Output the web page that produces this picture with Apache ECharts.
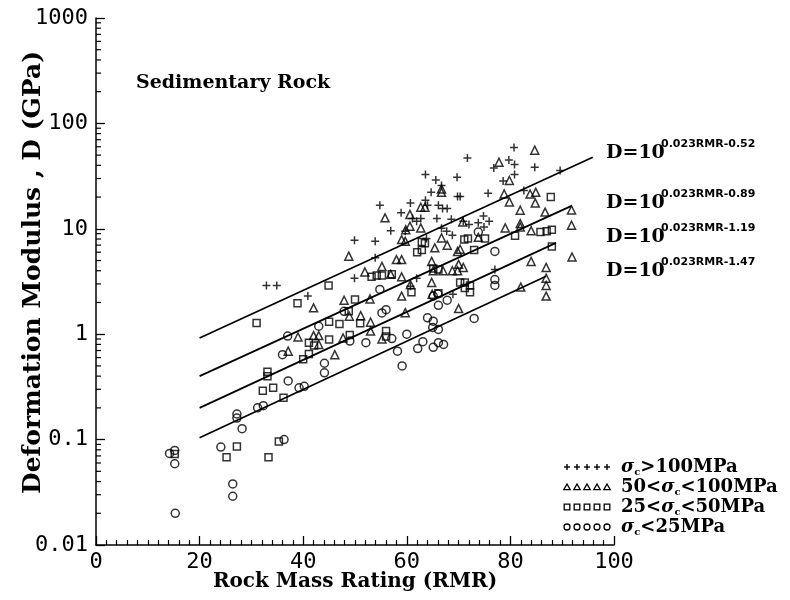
<!DOCTYPE html>
<html><head><meta charset="utf-8">
<script src="https://cdn.jsdelivr.net/npm/echarts@6/dist/echarts.min.js"></script>
<style>html,body{margin:0;padding:0;background:#fff}#c{width:790px;height:600px}</style>
</head><body><div id="c"></div>
<script>
// ---- data (RMR, D in GPa) ----
const strongRock = [ // sigma_c > 100 MPa
 [32.9,2.9],[34.9,2.9],[40.9,2.3],[49.9,7.8],[49.9,3.4],
 [80.7,59],[71.7,47],[79.7,45],[80.8,40.7],[76.8,37.8],[84.7,38.4],[80.8,32.7],[78.6,28.4],
 [63.6,32.7],[65.6,29.1],[69.7,30.9],[64.7,22.2],[69.8,20.2],[70.3,20.2],[75.7,21.8],[82.6,23.1],[89.6,35.7],
 [54.8,16.7],[60.7,17.6],[58.9,14.2],[63.6,18.7],[64,16.7],[66.1,16.7],[66.9,15.6],[67.8,15.6],
 [65.8,12.5],[62.7,12.5],[61.9,11.8],[61.1,12.5],[68.6,12.3],[70.9,11.8],[72,11],
 [73.8,11.4],[74.8,13.2],[75.9,11.8],[74.9,10.4],[56.9,9.6],[59.7,9.5],[53.9,7.6],[66.7,10.1],[67.7,9.5],[68.8,8.7],[63.8,8.1],
 [53.9,5.3],[61.9,3.4],[60.7,2.85],[68.9,2.4],[77,4.1],[66.7,25.8]
];
const mediumRock = [ // 50 < sigma_c < 100 MPa
 [84.7,55.7],[77.8,42.8],[79.8,28.7],[66.7,23.9],[66.7,22.2],[78.8,21.4],[83.8,21.4],[84.9,22.2],[79.8,18],[84.8,17.6],
 [55.8,12.7],[62.7,16],[63.5,16],[60.6,13.7],[59.8,9.8],[62.7,10.2],[70.8,11.6],
 [81.9,15],[81.9,11.2],[81.9,10.4],[86.7,14.4],[91.8,15.1],[91.8,10.8],[91.9,5.4],
 [79,10.2],[84,9.6],[84,4.9],[86.9,4.3],[86.9,3.4],[86.9,2.9],[86.9,2.3],[82,2.8],
 [58,5.1],[59,5.1],[55.2,4.4],[64.8,4.9],[64.8,3.1],[59,3.5],[59,2.3],
 [66.7,8.2],[67.8,7],[69.8,6.1],[70.3,6.4],[67,4.0],[68.8,4.0],[69.8,4.0],[70.9,4.3],[70,4.6],[65.1,4.0],[70,1.75],[59.7,1.6],
 [73.8,8.3],[65.4,6.6],[60.6,10.6],[59.7,7.6],
 [48.8,5.5],[51.9,3.9],[47.9,2.1],[52.9,2.16],[51.1,1.5],[53,1.3],[53,1.07],[46.1,0.64],[55.2,0.9],[64.9,2.4],
 [42,1.78],[39,0.94],[42,0.97],[43,0.97],[37.1,0.69],[43,0.8],[48.9,1.48],[47.7,0.92],[59,7.9],[56.9,3.7],[60.7,2.96]
];
const weakRock = [ // 25 < sigma_c < 50 MPa
 [44.9,2.9],[38.9,1.97],[50,2.13],[48.8,1.65],[31,1.28],
 [45,1.31],[47,1.25],[51,1.27],[45,0.89],[41.1,0.83],[42.1,0.78],[41.1,0.65],[40,0.58],[49,0.98],
 [33.1,0.44],[33.1,0.40],[32.2,0.29],[34.2,0.31],[36.2,0.25],[27.2,0.086],[25.2,0.068],[33.3,0.068],[35.3,0.096],[15.2,0.073],
 [87.8,20],[88,9.8],[85.8,9.3],[87,9.5],[80.9,8.6],[88,6.8],
 [71.8,8.1],[71.1,7.9],[75.1,8.1],[73,6.3],[62.9,7.5],[63.5,7.3],[62.9,6.3],[62,6],
 [65.1,4.2],[66.1,4.1],[70.3,3.1],[71.2,3.1],[72.2,2.9],[71.2,2.75],[72.2,2.5],[66.1,2.45],[60.9,2.5],
 [54.2,3.6],[55.2,3.6],[57.1,3.7],[53.2,3.5],[56,1.07],[56,0.95]
];
const veryWeakRock = [ // sigma_c < 25 MPa
 [43,1.19],[37,0.96],[36,0.64],[44.1,0.53],[44.1,0.43],[49,0.86],[52.1,0.83],[37.1,0.36],[39.2,0.31],[40.2,0.32],
 [32.3,0.21],[31.2,0.20],[27.2,0.175],[27.2,0.16],[28.2,0.127],[24.1,0.085],[36.3,0.1],[26.4,0.038],[26.4,0.029],
 [14.2,0.074],[15.2,0.079],[15.2,0.059],[15.3,0.020],
 [54.8,2.66],[56,1.71],[55.2,1.59],[66.1,1.88],[66,2.41],[67.8,2.1],[65.1,2.3],[64,1.43],[65.1,1.33],[65,1.16],[66.1,1.11],
 [73,1.41],[60,1.0],[57.1,0.91],[63.1,0.85],[66.1,0.83],[67.1,0.80],[65.1,0.75],[62.1,0.73],[58.2,0.69],[59.1,0.50],
 [77,3.3],[77,2.9],[77,6.1],[73.8,9.3],[47.9,1.65]
];
// fitted lines, endpoints
const fitA = [[20,0.92],[95.9,47.8]];   // D=10^(0.023RMR-0.52)
const fitB = [[20,0.40],[91.8,16.5]];   // D=10^(0.023RMR-0.89)
const fitC = [[20,0.20],[88.8,7.35]];   // D=10^(0.023RMR-1.19)
const fitD = [[20,0.104],[86.9,3.55]];  // D=10^(0.023RMR-1.47)
const equations = ['0.023RMR-0.52','0.023RMR-0.89','0.023RMR-1.19','0.023RMR-1.47'];
const legendLabels = [
  ['', '>100MPa'], ['50<', '<100MPa'], ['25<', '<50MPa'], ['', '<25MPa']
];
const xTicks = [0,20,40,60,80,100];
const yTicks = [0.01,0.1,1,10,100,1000];

// ---- minor tick positions for the log axis (decoration) ----
const yMinor = [];
for (let k = -2; k <= 2; k++) for (let m = 2; m <= 9; m++) yMinor.push(+(m * Math.pow(10, k)).toPrecision(3));

const chart = echarts.init(document.getElementById('c'), null, {renderer: 'canvas'});
const serif = 'DejaVu Serif';
const mono = 'DejaVu Sans Mono';
const plusPath = 'path://M5,0L5,10M0,5L10,5';

function scatter(name, data, symbol, size) {
  return {
    name, type: 'scatter', data, symbol, symbolSize: size, silent: true,
    itemStyle: {color: 'rgba(0,0,0,0)', borderColor: '#000', borderWidth: 1.5},
    emphasis: {disabled: true}, z: 3
  };
}
function fitLine(data) {
  return {type: 'line', data, symbol: 'none', silent: true,
    lineStyle: {color: '#000', width: 1.7}, z: 4};
}

// legend graphics
const legendG = [];
const rowsY = [467, 487, 507, 527];
rowsY.forEach((y, r) => {
  for (let i = 0; i < 5; i++) {
    const x = 567 + 10 * i;
    if (r === 0) {
      legendG.push({type: 'line', shape: {x1: x - 3, y1: y, x2: x + 3, y2: y}, style: {stroke: '#000', lineWidth: 1.4}});
      legendG.push({type: 'line', shape: {x1: x, y1: y - 3, x2: x, y2: y + 3}, style: {stroke: '#000', lineWidth: 1.4}});
    } else if (r === 1) {
      legendG.push({type: 'polygon', shape: {points: [[x, y - 3], [x - 3.2, y + 2.6], [x + 3.2, y + 2.6]]}, style: {fill: 'none', stroke: '#000', lineWidth: 1.3}});
    } else if (r === 2) {
      legendG.push({type: 'rect', shape: {x: x - 2.8, y: y - 2.8, width: 5.6, height: 5.6}, style: {fill: 'none', stroke: '#000', lineWidth: 1.3}});
    } else {
      legendG.push({type: 'circle', shape: {cx: x, cy: y, r: 3}, style: {fill: 'none', stroke: '#000', lineWidth: 1.3}});
    }
  }
  const [pre, post] = legendLabels[r];
  legendG.push({type: 'text', x: 621, y: y, style: {
    text: (pre ? '{t|' + pre + '}' : '') + '{s|σ}{c|c}{t|' + post + '}',
    verticalAlign: 'middle', align: 'left',
    rich: {
      t: {fontFamily: serif, fontWeight: 'bold', fontSize: 18, color: '#000', lineHeight: 20},
      s: {fontFamily: serif, fontStyle: 'italic', fontWeight: 'bold', fontSize: 18, color: '#000', lineHeight: 20},
      c: {fontFamily: serif, fontWeight: 'bold', fontSize: 10, color: '#000', lineHeight: 20, verticalAlign: 'bottom', padding: [6, 0, 0, 0]}
    }
  }});
});

// equations
const eqY = [153, 203, 237, 271];
const eqG = [];
eqY.forEach((y, i) => {
  eqG.push({type: 'text', x: 606, y: y, style: {text: 'D=10', font: 'bold 19px ' + serif, fill: '#000', verticalAlign: 'middle'}});
  eqG.push({type: 'text', x: 661, y: y - 9, style: {text: equations[i], font: 'bold 11px "DejaVu Sans"', fill: '#000', verticalAlign: 'middle'}});
});

const option = {
  animation: false,
  backgroundColor: '#fff',
  grid: {left: 96, right: 176, top: 18, bottom: 55, containLabel: false, show: false},
  xAxis: {
    type: 'value', min: 0, max: 100, interval: 20,
    axisLine: {show: true, lineStyle: {color: '#000', width: 1.5}},
    axisTick: {show: true, inside: true, length: 9, lineStyle: {color: '#000', width: 1.3}},
    minorTick: {show: true, splitNumber: 10, length: 5, lineStyle: {color: '#000', width: 1.2}},
    splitLine: {show: false}, minorSplitLine: {show: false},
    axisLabel: {color: '#000', fontFamily: mono, fontSize: 22, margin: 6,
      formatter: v => xTicks.includes(v) ? String(v) : ''},
    name: 'Rock Mass Rating (RMR)', nameLocation: 'middle', nameGap: 27, nameMoveOverlap: false,
    nameTextStyle: {fontFamily: serif, fontWeight: 'bold', fontSize: 20, color: '#000'}
  },
  yAxis: {
    type: 'log', logBase: 10, min: 0.01, max: 1000,
    axisLine: {show: true, lineStyle: {color: '#000', width: 1.5}},
    axisTick: {show: true, inside: true, length: 9, lineStyle: {color: '#000', width: 1.3}},
    splitLine: {show: false},
    axisLabel: {color: '#000', fontFamily: mono, fontSize: 22, margin: 8,
      formatter: v => { const n = +(+v).toPrecision(6); return yTicks.some(t => Math.abs(t - n) / t < 1e-6) ? String(n) : ''; }},
    name: 'Deformation Modulus , D (GPa)', nameLocation: 'middle', nameGap: 50, nameRotate: 90, nameMoveOverlap: false,
    nameTextStyle: {fontFamily: serif, fontWeight: 'bold', fontSize: 25, color: '#000', padding: [0, 0, 0, 18]}
  },
  graphic: [
    {type: 'text', x: 136, y: 83, style: {text: 'Sedimentary Rock', font: 'bold 19px ' + serif, fill: '#000', verticalAlign: 'middle'}},
    ...eqG, ...legendG
  ],
  series: [
    fitLine(fitA), fitLine(fitB), fitLine(fitC), fitLine(fitD),
    scatter('σc>100MPa', strongRock, plusPath, 8),
    scatter('50<σc<100MPa', mediumRock, 'triangle', 8),
    scatter('25<σc<50MPa', weakRock, 'rect', 7),
    scatter('σc<25MPa', veryWeakRock, 'circle', 8),
    {
      type: 'custom', silent: true, z: 5,
      data: yMinor.map(v => [0, v]),
      renderItem: (params, api) => {
        const c = api.coord([0, api.value(1)]);
        return {type: 'line', shape: {x1: c[0], y1: c[1], x2: c[0] + 5, y2: c[1]},
          style: {stroke: '#000', lineWidth: 1.2}};
      }
    }
  ]
};
chart.setOption(option);
</script>
</body></html>
